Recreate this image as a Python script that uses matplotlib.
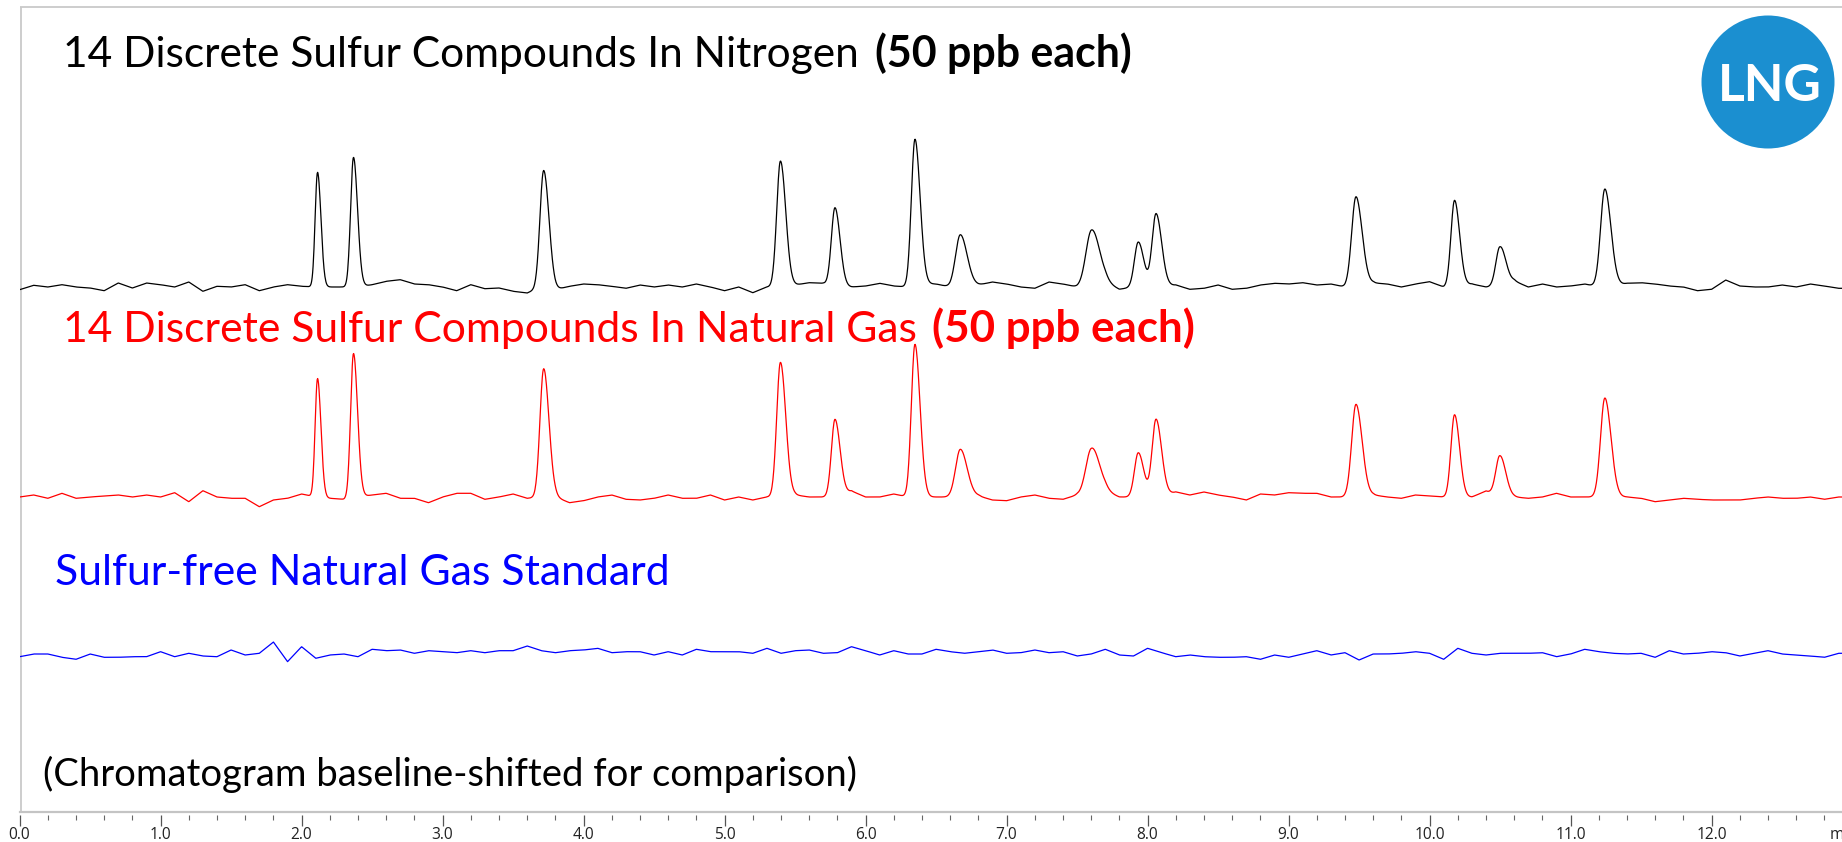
import numpy as np
import matplotlib
matplotlib.use("Agg")
import matplotlib.pyplot as plt
from matplotlib.ticker import MultipleLocator, FormatStrFormatter
from matplotlib.patches import Ellipse
from matplotlib.lines import Line2D

# ---------------------------------------------------------------- data
# retention times (min) of the 14 sulfur compounds
peak_rt = [2.113, 2.368, 3.717, 5.396, 5.783, 6.350, 6.672,
           7.603, 7.934, 8.060, 9.478, 10.177, 10.499, 11.243]
# peak widths (sigma, min)
peak_sigma = [0.020, 0.024, 0.031, 0.031, 0.030, 0.030, 0.040,
              0.047, 0.032, 0.033, 0.036, 0.030, 0.034, 0.036]
# peak heights above baseline (signal units)
heights_n2 = [114.7, 129.7, 117.0, 126.0, 78.7, 146.3, 52.3,
              57.0, 45.0, 73.3, 90.3, 86.7, 40.3, 98.0]
heights_ng = [118.7, 144.3, 128.3, 134.7, 77.7, 152.7, 47.7,
              48.7, 44.3, 77.7, 92.7, 83.3, 41.3, 99.0]

# baseline readings every 0.1 min (0.0 ... 12.9)
base_times = np.round(np.arange(0, 13.0, 0.1), 1)
base_n2 = [
    -2.7, 1.7, 0.0, 2.3, 0.0, -1.0, -3.7, 4.0, -1.0, 4.0,
    2.3, 0.0, 5.0, -4.3, 0.7, 0.0, 2.3, -3.7, 0.0, 2.3,
    0.7, 0.0, 0.0, 0.0, 0.0, 2.3, 5.7, 7.3, 3.0, 2.3,
    0.0, -3.7, 2.3, -1.7, -1.0, -4.3, -6.0, 0.0, -2.7, 0.7,
    3.0, 2.3, 0.7, -1.3, 2.0, 0.0, 2.0, 0.0, 3.0, 0.0,
    -3.7, 0.0, -5.7, 0.0, 0.0, 2.0, 4.3, 3.7, 0.0, 0.0,
    1.0, 3.7, 1.0, 0.0, 3.0, 3.0, 0.0, 0.0, 2.0, 5.0,
    3.0, 0.0, -1.3, 5.0, 3.0, 0.0, 0.0, 4.0, -2.3, 0.0,
    0.0, 0.0, 2.0, -2.3, -1.3, 2.0, -2.3, -1.3, 2.0, 3.7,
    3.0, 4.3, 2.0, 3.0, 0.0, 0.0, 4.0, 3.0, 0.0, 3.0,
    5.3, 0.0, 0.0, 3.0, 0.0, 0.0, 6.0, 0.0, 3.0, 0.0,
    1.0, 3.0, 0.0, 0.0, 3.7, 4.3, 3.0, 1.0, 0.0, -3.7,
    -2.3, 7.0, 1.0, 0.0, 0.0, 2.0, 0.0, 3.0, 1.0, -1.3,
]
base_ng = [
    0.0, 2.0, -1.3, 3.7, -1.3, 0.0, 1.0, 2.0, 0.0, 2.0,
    0.0, 4.3, -4.7, 6.3, 0.0, -1.3, -1.3, -9.7, -3.0, -1.3,
    3.0, 0.0, -1.3, -2.3, 0.0, 2.0, 3.7, -1.3, -1.3, -5.7,
    0.0, 3.7, 3.7, -2.3, 0.0, 3.0, -1.3, 0.0, 0.0, -5.7,
    -3.7, 0.0, 2.0, -2.3, -3.0, -1.3, 2.0, -1.3, -1.3, 2.0,
    -3.0, 0.0, -3.0, 0.0, 0.0, 2.0, 0.0, 0.0, 0.0, 6.0,
    0.0, 0.0, 3.0, 0.0, 0.0, 0.0, 0.0, 0.0, 1.0, -3.0,
    -3.7, 0.0, 2.0, -1.3, -2.3, 2.0, 0.0, 5.0, 0.0, 0.0,
    0.0, 0.0, 5.0, 2.0, 5.0, 2.0, 0.0, -3.0, 3.0, 2.0,
    4.3, 3.7, 3.7, 0.0, 0.0, 0.0, 2.0, 0.0, -1.3, 2.0,
    1.0, 0.0, -1.3, 0.0, 6.0, 0.0, 0.0, -1.3, 0.0, 3.7,
    0.0, 0.0, 0.0, 0.0, 0.0, -1.3, -4.7, -3.0, -1.3, -2.3,
    -3.0, -3.0, -3.0, -1.3, 0.0, -1.3, -1.3, 0.0, -2.3, 0.0,
]
base_blank = [
    -1.7, 1.0, 1.0, -2.3, -4.3, 1.0, -2.3, -2.3, -1.7, -1.7,
    3.3, -1.7, 1.7, -1.0, -1.7, 5.0, 0.0, 1.7, 13.0, -6.7,
    8.3, -3.3, 0.0, 1.0, -1.7, 5.7, 4.3, 5.0, 1.7, 4.3,
    3.3, 2.3, 4.3, 2.3, 4.3, 4.3, 9.0, 4.3, 2.3, 4.3,
    5.0, 6.7, 2.3, 3.3, 3.3, 0.0, 3.3, 0.0, 5.7, 3.3,
    3.3, 3.3, 1.7, 6.7, 1.7, 4.3, 5.0, 1.7, 2.3, 8.3,
    4.3, 0.0, 4.3, 1.0, 1.0, 5.7, 3.3, 1.7, 3.3, 5.0,
    1.7, 2.3, 5.0, 2.3, 3.3, -1.0, 1.0, 5.7, 0.0, -1.0,
    6.7, 2.3, -1.7, 0.0, -1.7, -2.3, -2.3, -1.7, -4.3, 0.0,
    -2.3, 1.0, 4.3, 0.0, 2.3, -5.0, 1.0, 1.0, 1.7, 3.3,
    1.7, -4.3, 6.7, 1.7, 0.0, 1.7, 1.7, 1.7, 2.3, -1.7,
    1.0, 5.7, 3.3, 1.7, 1.0, 1.7, -2.3, 4.3, 1.0, 1.7,
    3.3, 2.3, -1.0, 1.7, 4.3, 1.0, 0.0, -1.0, -2.3, 1.7,
]

# vertical shift applied to each chromatogram
offset_n2, offset_ng, offset_blank = 525, 315, 157

x_ticks_minor = 0.2
x_ticks_major = 1.0

# ---------------------------------------------------------------- figure
W, H = 1842, 842
fig = plt.figure(figsize=(W / 100, H / 100), dpi=100)
fig.patch.set_facecolor("white")


def fx(px):
    return px / W


def fy(py):
    return 1 - py / H


px_per_min = 141.0
x0 = 19.6
ax = fig.add_axes([fx(x0), fy(812), 1 - fx(x0), fy(7) - fy(812)])
ax.set_xlim(0, (W - x0) / px_per_min)
ax.set_ylim(0, 805)
for s in ax.spines.values():
    s.set_visible(False)
ax.spines["bottom"].set_position(("outward", 2.5))

frame_kw = dict(transform=ax.transAxes, color="#c9c9c9", lw=1.3,
                clip_on=False, solid_capstyle="butt")
ax.add_line(Line2D([0.0008, 0.0008], [0, 1], **frame_kw))
ax.add_line(Line2D([0, 1], [1, 1], **frame_kw))
ax.add_line(Line2D([0, 1], [0, 0], color="#c4c4c4", lw=1.6,
                   transform=ax.transAxes, clip_on=False))

ax.xaxis.set_major_locator(MultipleLocator(x_ticks_major))
ax.xaxis.set_minor_locator(MultipleLocator(x_ticks_minor))
ax.xaxis.set_major_formatter(FormatStrFormatter("%.1f"))
ax.tick_params(axis="x", which="major", direction="out", length=8,
               width=0.9, color="#555555", pad=0.5, labelsize=11.2,
               labelcolor="#222222")
ax.tick_params(axis="x", which="minor", direction="out", length=3.5,
               width=0.8, color="#666666")
for lbl in ax.get_xticklabels():
    lbl.set_fontfamily("Open Sans")
ax.set_yticks([])

# ---------------------------------------------------------------- traces
t = np.linspace(0, (W - x0) / px_per_min, 4000)


def peak(tt, rt, h, s):
    sig = np.where(tt < rt, s * 0.85, s * 1.2)
    return h * np.exp(-0.5 * ((tt - rt) / sig) ** 2)


def chromatogram(base, heights):
    y = np.interp(t, base_times, base)
    if heights is not None:
        for rt, h, s in zip(peak_rt, heights, peak_sigma):
            y = y + peak(t, rt, h, s)
    return y


ax.plot(t, offset_n2 + chromatogram(base_n2, heights_n2),
        color="black", lw=0.9)
ax.plot(t, offset_ng + chromatogram(base_ng, heights_ng),
        color="#ff0000", lw=0.9)
ax.plot(t, offset_blank + chromatogram(base_blank, None),
        color="#0000ff", lw=0.9)

# ---------------------------------------------------------------- text
renderer = fig.canvas.get_renderer()
FAM = "Lato"


def fitted_text(x_px, base_px, s, width_px, color, weight="normal"):
    txt = fig.text(fx(x_px), fy(base_px), s, ha="left", va="baseline",
                   color=color, fontsize=30, fontfamily=FAM,
                   fontweight=weight)
    w = txt.get_window_extent(renderer).width
    txt.set_fontsize(30 * width_px / w)
    return txt


fitted_text(63, 67, "14 Discrete Sulfur Compounds In Nitrogen", 798, "black")
fitted_text(875, 67, "(50 ppb each)", 256, "black", "bold")
fitted_text(63, 342, "14 Discrete Sulfur Compounds In Natural Gas", 855,
            "#ff0000")
fitted_text(932, 342, "(50 ppb each)", 262, "#ff0000", "bold")
fitted_text(55, 585, "Sulfur-free Natural Gas Standard", 615, "#0000ff")
fitted_text(43, 786, "(Chromatogram baseline-shifted for comparison)", 812,
            "black")

fig.text(fx(1830), fy(839), "min", ha="left", va="baseline",
         fontsize=11.2, fontfamily="Open Sans", color="#222222")

# logo badge
cx, cy, r = 1768, 82, 66.5
fig.add_artist(Ellipse((fx(cx), fy(cy)), 2 * r / W, 2 * r / H,
                       transform=fig.transFigure, color="#1b8fd0", lw=0))
logo = fig.text(fx(cx + 2), fy(cy), "LNG", ha="center", va="center_baseline",
                color="white", fontsize=30, fontfamily=FAM,
                fontweight="bold")
lw_ = logo.get_window_extent(renderer).width
logo.set_fontsize(30 * 104 / lw_)

fig.savefig("out.png", dpi=100, facecolor="white")
